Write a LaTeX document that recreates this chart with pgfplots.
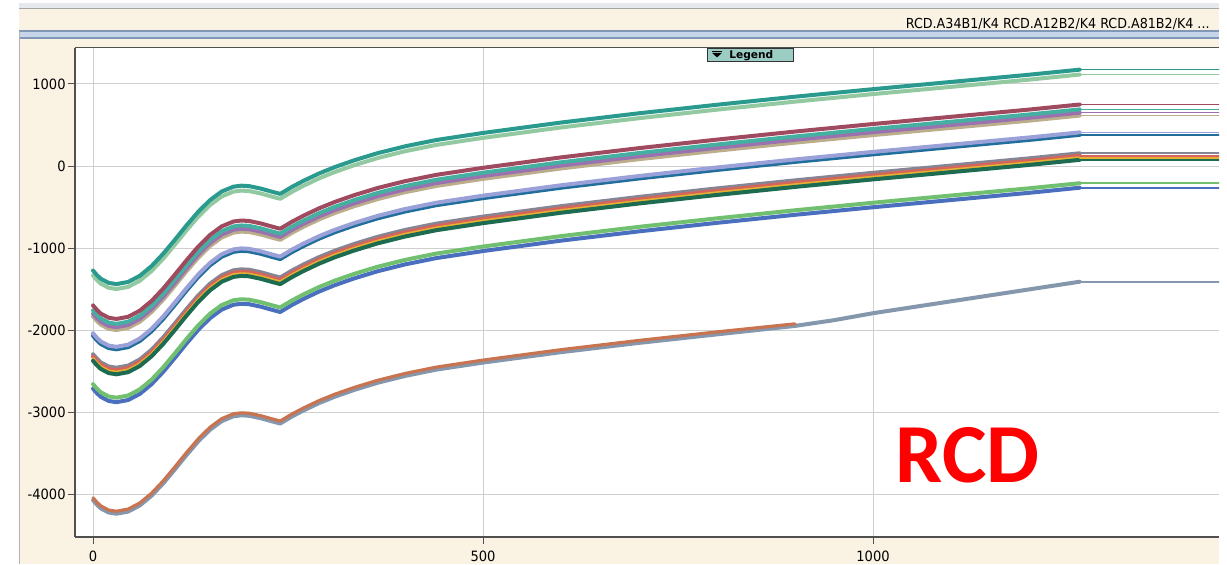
\documentclass[border=0pt]{standalone}
\usepackage{pgfplots}
\pgfplotsset{compat=1.18}
\usepackage{pgfplotstable}
\usepackage{fontspec}
\setmainfont{DejaVu Sans}
\newfontfamily\carlito{Carlito}
\newfontfamily\condfont{DejaVu Sans}[FakeStretch=0.92]

\definecolor{beige}{HTML}{FAF3E3}
\definecolor{bandgray}{HTML}{E6E9EE}
\definecolor{bandblue}{HTML}{C6D5EA}
\definecolor{lineblue}{HTML}{8197B8}
\definecolor{axisgray}{HTML}{505050}
\definecolor{gridgray}{HTML}{CFCFCF}
\definecolor{btn}{HTML}{9CCDC5}
\definecolor{cA}{HTML}{2A9A8E}
\definecolor{cB}{HTML}{93C9A0}
\definecolor{cC}{HTML}{A04A60}
\definecolor{cD}{HTML}{45AFA1}
\definecolor{cE}{HTML}{9B72B0}
\definecolor{cF}{HTML}{BCAE8A}
\definecolor{cG}{HTML}{9AA0D8}
\definecolor{cH}{HTML}{1F6E9C}
\definecolor{cI}{HTML}{858596}
\definecolor{cJ}{HTML}{D5655A}
\definecolor{cK}{HTML}{E8B030}
\definecolor{cL}{HTML}{1D6B50}
\definecolor{cM}{HTML}{70C070}
\definecolor{cN}{HTML}{4A6FBF}
\definecolor{cO}{HTML}{C87450}
\definecolor{cP}{HTML}{8497AD}

\pgfplotstableread[header=false]{
x -0 5 10 20 30 45 60 75 90 105 120 135 150 165 180 190 200 215 230 240 255 270 290 310 335 365 400 440 500 600 700 800 900 1000 1100 1200 1265
s1 -1275 -1330 -1375 -1425 -1440 -1414 -1339 -1221 -1070 -899 -723 -557 -416 -311 -252 -240 -245 -275 -315 -340 -255 -180 -90 -13 70 157 240 317 403 530 643 747 845 937 1025 1113 1175
s2 -1335 -1390 -1435 -1485 -1500 -1474 -1399 -1281 -1130 -959 -783 -617 -476 -371 -312 -300 -305 -335 -375 -400 -315 -240 -150 -73 10 97 180 257 343 470 583 687 785 877 965 1053 1115
s3 -1700 -1755 -1800 -1850 -1865 -1839 -1764 -1646 -1495 -1324 -1148 -982 -841 -736 -677 -665 -670 -700 -740 -765 -680 -605 -515 -438 -355 -268 -185 -108 -22 105 218 322 420 512 600 688 750
s4 -1760 -1815 -1860 -1910 -1925 -1899 -1824 -1706 -1555 -1384 -1208 -1042 -901 -796 -737 -725 -730 -760 -800 -825 -740 -665 -575 -498 -415 -328 -245 -168 -82 45 158 262 360 452 540 628 690
s5 -1800 -1855 -1900 -1950 -1965 -1939 -1864 -1746 -1595 -1424 -1248 -1082 -941 -836 -777 -765 -770 -800 -840 -865 -780 -705 -615 -538 -455 -368 -285 -208 -122 5 118 222 320 412 500 588 650
s6 -1835 -1890 -1935 -1985 -2000 -1974 -1899 -1781 -1630 -1459 -1283 -1117 -976 -871 -812 -800 -805 -835 -875 -900 -815 -740 -650 -573 -490 -403 -320 -243 -157 -30 83 187 285 377 465 553 615
s7 -2040 -2095 -2140 -2190 -2205 -2179 -2104 -1986 -1835 -1664 -1488 -1322 -1181 -1076 -1017 -1005 -1010 -1040 -1080 -1105 -1020 -945 -855 -778 -695 -608 -525 -448 -362 -235 -122 -18 80 172 260 348 410
s8 -2070 -2125 -2170 -2220 -2235 -2209 -2134 -2016 -1865 -1694 -1518 -1352 -1211 -1106 -1047 -1035 -1040 -1070 -1110 -1135 -1050 -975 -885 -808 -725 -638 -555 -478 -392 -265 -152 -48 50 142 230 318 380
s9 -2295 -2350 -2395 -2445 -2460 -2434 -2359 -2241 -2090 -1919 -1743 -1577 -1436 -1331 -1272 -1260 -1265 -1295 -1335 -1360 -1275 -1200 -1110 -1033 -950 -863 -780 -703 -617 -490 -377 -273 -175 -83 5 93 155
s10 -2325 -2380 -2425 -2475 -2490 -2464 -2389 -2271 -2120 -1949 -1773 -1607 -1466 -1361 -1302 -1290 -1295 -1325 -1365 -1390 -1305 -1230 -1140 -1063 -980 -893 -810 -733 -647 -520 -407 -303 -205 -113 -25 63 125
s11 -2350 -2405 -2450 -2500 -2515 -2489 -2414 -2296 -2145 -1974 -1798 -1632 -1491 -1386 -1327 -1315 -1320 -1350 -1390 -1415 -1330 -1255 -1165 -1088 -1005 -918 -835 -758 -672 -545 -432 -328 -230 -138 -50 38 100
s12 -2375 -2430 -2475 -2525 -2540 -2514 -2439 -2321 -2170 -1999 -1823 -1657 -1516 -1411 -1352 -1340 -1345 -1375 -1415 -1440 -1355 -1280 -1190 -1113 -1030 -943 -860 -783 -697 -570 -457 -353 -255 -163 -75 13 75
s13 -2660 -2715 -2760 -2810 -2825 -2799 -2724 -2606 -2455 -2284 -2108 -1942 -1801 -1696 -1637 -1625 -1630 -1660 -1700 -1725 -1640 -1565 -1475 -1398 -1315 -1228 -1145 -1068 -982 -855 -742 -638 -540 -448 -360 -272 -210
s14 -2715 -2770 -2815 -2865 -2880 -2854 -2779 -2661 -2510 -2339 -2163 -1997 -1856 -1751 -1692 -1680 -1685 -1715 -1755 -1780 -1695 -1620 -1530 -1453 -1370 -1283 -1200 -1123 -1037 -910 -797 -693 -595 -503 -415 -327 -265
}\rawtab
\pgfplotstabletranspose[colnames from=0]{\datamain}{\rawtab}

\begin{document}
\begin{tikzpicture}[x=0.5pt,y=0.5pt]
\path[use as bounding box] (0,0) rectangle (1227,564);
\fill[white] (0,0) rectangle (1227,564);
% top bands
\fill[bandgray] (19,556) rectangle (1219,561);
\draw[gray!70, line width=0.6pt] (19,555.5) -- (1219,555.5);
\fill[beige] (19,534) rectangle (1219,555);
\fill[bandblue] (19,526.5) rectangle (1219,533.2);
\draw[lineblue, line width=0.7pt] (19,533.2) -- (1219,533.2);
\draw[lineblue, line width=0.7pt] (19,526) -- (1219,526);
\fill[beige] (19,0) rectangle (1219,525.5);
\draw[gray!60, line width=0.5pt] (19,0) -- (19,533);
% plot area
\fill[white] (75,27) rectangle (1219,516.5);
\node[anchor=base east, inner sep=0, font=\condfont\fontsize{6.9}{8}\selectfont] at (1210,535.7) {RCD.A34B1/K4 RCD.A12B2/K4 RCD.A81B2/K4 ...};
\begin{axis}[
  at={(37.5pt,13.5pt)}, anchor=south west,
  scale only axis, width=572pt, height=244.75pt,
  xmin=-23.1, xmax=1443.6, ymin=-4524, ymax=1445,
  axis lines*=left,
  axis line style={-, color=axisgray, line width=0.8pt},
  xtick={0,500,1000}, ytick={-4000,-3000,-2000,-1000,0,1000},
  grid=major, grid style={color=gridgray, line width=0.5pt},
  tick align=outside, major tick length=3.5pt,
  tick style={color=axisgray, line width=0.5pt},
  ticklabel style={font=\condfont\fontsize{7.1}{8}\selectfont, text=black},
  /pgf/number format/assume math mode=true,
  /pgf/number format/set thousands separator={},
  scaled ticks=false,
  yticklabel style={inner sep=1pt},
  every axis plot/.append style={line join=round, line cap=round},
]
\addplot[cP, line width=2pt] coordinates {(0,-4075)(5,-4130)(10,-4175)(20,-4225)(30,-4240)(45,-4214)(60,-4139)(75,-4021)(90,-3870)(105,-3699)(120,-3523)(135,-3357)(150,-3216)(165,-3111)(180,-3052)(190,-3040)(200,-3045)(215,-3075)(230,-3115)(240,-3140)(255,-3055)(270,-2980)(290,-2890)(310,-2813)(335,-2730)(365,-2643)(400,-2560)(440,-2483)(500,-2397)(600,-2270)(700,-2157)(800,-2053)(900,-1950)(950,-1880)(1000,-1795)(1100,-1650)(1200,-1505)(1265,-1411)};
\addplot[cO, line width=1.6pt] coordinates {(0,-4045)(5,-4100)(10,-4145)(20,-4195)(30,-4210)(45,-4184)(60,-4109)(75,-3991)(90,-3840)(105,-3669)(120,-3493)(135,-3327)(150,-3186)(165,-3081)(180,-3022)(190,-3010)(200,-3015)(215,-3045)(230,-3085)(240,-3110)(255,-3025)(270,-2950)(290,-2860)(310,-2783)(335,-2700)(365,-2613)(400,-2530)(440,-2453)(500,-2367)(600,-2240)(700,-2127)(800,-2023)(900,-1925)};
\addplot[cP, line width=0.8pt] coordinates {(1265,-1411)(1460,-1411)};
\addplot[cN, line width=2pt] table[x=x, y=s14]{\datamain};
\addplot[cM, line width=2pt] table[x=x, y=s13]{\datamain};
\addplot[cI, line width=2pt] table[x=x, y=s9]{\datamain};
\addplot[cJ, line width=2pt] table[x=x, y=s10]{\datamain};
\addplot[cK, line width=1.6pt] table[x=x, y=s11]{\datamain};
\addplot[cL, line width=2pt] table[x=x, y=s12]{\datamain};
\addplot[cH, line width=2pt] table[x=x, y=s8]{\datamain};
\addplot[cG, line width=2pt] table[x=x, y=s7]{\datamain};
\addplot[cF, line width=2pt] table[x=x, y=s6]{\datamain};
\addplot[cE, line width=2pt] table[x=x, y=s5]{\datamain};
\addplot[cD, line width=2pt] table[x=x, y=s4]{\datamain};
\addplot[cC, line width=2pt] table[x=x, y=s3]{\datamain};
\addplot[cB, line width=2pt] table[x=x, y=s2]{\datamain};
\addplot[cA, line width=2pt] table[x=x, y=s1]{\datamain};
% flat tails
\addplot[cA, line width=0.8pt] coordinates {(1265,1175)(1460,1175)};
\addplot[cB, line width=0.8pt] coordinates {(1265,1115)(1460,1115)};
\addplot[cC, line width=0.8pt] coordinates {(1265,750)(1460,750)};
\addplot[cD, line width=0.8pt] coordinates {(1265,690)(1460,690)};
\addplot[cE, line width=0.8pt] coordinates {(1265,650)(1460,650)};
\addplot[cF, line width=0.8pt] coordinates {(1265,615)(1460,615)};
\addplot[cG, line width=0.8pt] coordinates {(1265,410)(1460,410)};
\addplot[cH, line width=0.8pt] coordinates {(1265,380)(1460,380)};
\addplot[cI, line width=0.8pt] coordinates {(1265,155)(1460,155)};
\addplot[cJ, line width=0.8pt] coordinates {(1265,125)(1460,125)};
\addplot[cK, line width=0.8pt] coordinates {(1265,100)(1460,100)};
\addplot[cL, line width=0.8pt] coordinates {(1265,75)(1460,75)};
\addplot[cM, line width=0.8pt] coordinates {(1265,-210)(1460,-210)};
\addplot[cN, line width=0.8pt] coordinates {(1265,-265)(1460,-265)};
\end{axis}
\draw[axisgray, line width=0.8pt] (75,516.5) -- (1219,516.5);
% legend button
\filldraw[fill=btn, draw=black!80, line width=0.5pt] (707,502.3) rectangle (793,515.7);
\fill[black] (712,512.2) rectangle (722,513.4);
\fill[black] (712,511.2) -- (722,511.2) -- (717,506.6) -- cycle;
\node[anchor=base west, inner sep=0, font=\bfseries\fontsize{5.3}{6}\selectfont] at (729,505.7) {Legend};
% big label
\node[anchor=base west, inner sep=0, text=red, font=\carlito\bfseries\fontsize{42}{42}\selectfont] at (895,82) {RCD};
\end{tikzpicture}
\end{document}
